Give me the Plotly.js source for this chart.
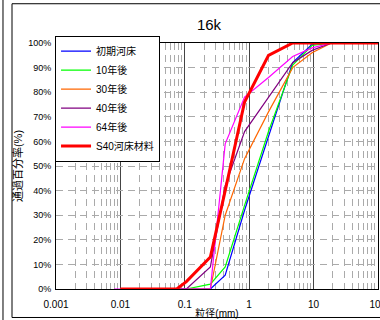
<!DOCTYPE html>
<html><head><meta charset="utf-8">
<script src="https://cdn.plot.ly/plotly-3.0.1.min.js"></script>
<style>html,body{margin:0;padding:0;background:#fff;}#chart{width:380px;height:320px;}</style>
</head><body><div id="chart"></div>
<script>
// Grain size (mm) and percent passing
var sizesA = [0.075, 0.106, 0.25, 0.425, 0.85, 2, 4.75, 9.5, 19, 100];
var blueVals   = [0, 0, 0, 5.6, 32, 62, 92, 99.5, 100, 100];
var greenVals  = [0, 0, 2, 9, 34, 64, 91, 99, 100, 100];
var orangeVals = [0, 0, 0, 30, 53, 72, 90, 96, 100, 100];
var purpleVals = [0, 0, 9, 42, 64, 78, 92, 97, 100, 100];
var sizesM = [0.008, 0.075, 0.106, 0.25, 0.425, 0.85, 2, 4.75, 9.5, 19, 100];
var magentaVals = [0, 0, 0, 0, 59, 78, 86, 94.5, 98, 100, 100];
var sizesR = [0.01, 0.075, 0.106, 0.25, 0.425, 0.85, 2, 4.75, 9.5, 19, 100];
var redVals = [0, 0, 3, 13, 40, 76, 95, 100, 100, 100, 100];
var names = ['初期河床', '10年後', '30年後', '40年後', '64年後', 'S40河床材料'];
var yTickVals = [0, 10, 20, 30, 40, 50, 60, 70, 80, 90, 100];
var yTickText = ['0%', '10%', '20%', '30%', '40%', '50%', '60%', '70%', '80%', '90%', '100%'];
var xTickVals = [0.001, 0.01, 0.1, 1, 10, 100];
var xTickText = ['0.001', '0.01', '0.1', '1', '10', '100'];

var FONT = 'Liberation Sans, Arial, Noto Sans CJK JP, sans-serif';
function tr(x, y, name, color, width) {
  return {x: x, y: y, name: name, type: 'scatter', mode: 'lines',
    line: {color: color, width: width}};
}
var data = [
  tr(sizesA, blueVals, names[0], '#0000FF', 1.2),
  tr(sizesA, greenVals, names[1], '#00FF00', 1.2),
  tr(sizesA, orangeVals, names[2], '#FF6600', 1.2),
  tr(sizesA, purpleVals, names[3], '#800080', 1.2),
  tr(sizesM, magentaVals, names[4], '#FF00FF', 1.2),
  tr(sizesR, redVals, names[5], '#FF0000', 3)
];
var layout = {
  width: 380, height: 320,
  margin: {l: 56, r: 2, t: 43, b: 30.5, pad: 0},
  paper_bgcolor: '#fff', plot_bgcolor: '#fff',
  font: {family: FONT, size: 9, color: '#000'},
  title: {text: '16k', font: {size: 15, family: FONT, color: '#000'},
    x: 209/380, xref: 'container', xanchor: 'center',
    y: 1 - 25/320, yref: 'container', yanchor: 'middle'},
  showlegend: true,
  legend: {x: -0.003, y: 1.03, xanchor: 'left', yanchor: 'top',
    bgcolor: '#fff', bordercolor: '#000', borderwidth: 1,
    font: {size: 10, family: FONT, color: '#000'}, itemwidth: 30},
  xaxis: {type: 'log', range: [-3, 2.002], tickvals: xTickVals, ticktext: xTickText,
    showgrid: true, gridcolor: '#444', gridwidth: 1,
    showline: true, linecolor: '#000', linewidth: 1, mirror: true,
    ticks: '', zeroline: false, tickfont: {size: 10}, ticklabelstandoff: 6,
    ticklabeloverflow: 'allow',
    minor: {dtick: 'D1', showgrid: true, gridcolor: '#aaa', gridwidth: 1, griddash: '7px,5px', ticks: ''},
    title: {text: '粒径(mm)', font: {size: 10}, standoff: 0}},
  yaxis: {range: [0, 100], tickvals: yTickVals, ticktext: yTickText,
    showgrid: true, gridcolor: '#aaa', gridwidth: 1, griddash: '7px,5px',
    showline: true, linecolor: '#000', linewidth: 1, mirror: true,
    ticks: '', zeroline: false, tickfont: {size: 9}, ticklabelstandoff: 2,
    title: {text: '通過百分率(%)', font: {size: 11}, standoff: 3}},
  shapes: [
    {type: 'line', xref: 'paper', yref: 'paper', x0: -0.1646, x1: -0.1646, y0: -0.2, y1: 1.2, line: {color: '#000', width: 1}},
    {type: 'rect', xref: 'paper', yref: 'paper', x0: -0.1366, x1: 1.05, y0: -0.1158, y1: 1.1596, line: {color: '#000', width: 1}, layer: 'below'}
  ]
};
Plotly.newPlot('chart', data, layout, {staticPlot: true});
</script></body></html>
